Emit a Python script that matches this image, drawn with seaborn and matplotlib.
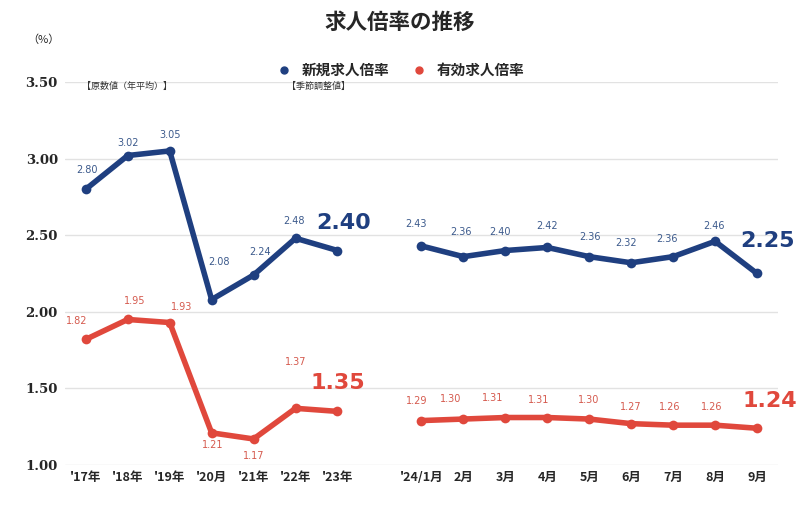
import pandas as pd
import matplotlib.pyplot as plt
import seaborn as sns
from matplotlib.lines import Line2D

sns.set_theme(style="white")
plt.rcParams["font.family"] = ["Noto Sans CJK JP", "DejaVu Sans"]

# categories ("" is the visual gap between annual and monthly data)
categories = ["'17年", "'18年", "'19年", "'20月", "'21年", "'22年", "'23年", "",
              "'24/1月", "2月", "3月", "4月", "5月", "6月", "7月", "8月", "9月"]
segments = [0, 0, 0, 0, 0, 0, 0, -1, 1, 1, 1, 1, 1, 1, 1, 1, 1]
new_ratio = [2.80, 3.02, 3.05, 2.08, 2.24, 2.48, 2.40, None,
             2.43, 2.36, 2.40, 2.42, 2.36, 2.32, 2.36, 2.46, 2.25]
active_ratio = [1.82, 1.95, 1.93, 1.21, 1.17, 1.37, 1.35, None,
                1.29, 1.30, 1.31, 1.31, 1.30, 1.27, 1.26, 1.26, 1.24]

series_names = ["新規求人倍率", "有効求人倍率"]
colors = {"新規求人倍率": "#1F3F80", "有効求人倍率": "#E0483C"}
label_colors = {"新規求人倍率": "#3C5A8C", "有効求人倍率": "#D55A4E"}

# label offsets in pixels (dx, dy) for each point
new_offsets = [(1, 19), (0, 13), (0, 16), (7, 38), (6, 23), (-2, 17), (6, 28), None,
               (-5, 22), (-2, 25), (-5, 19), (0, 21), (1, 20), (-5, 20), (-6, 18), (-1, 15), (10, 32)]
active_offsets = [(-9, 18), (7, 18), (12, 16), (1, -12), (0, -17), (0, 46), (0, 28), None,
                  (-5, 20), (-13, 20), (-13, 20), (-9, 18), (-1, 19), (0, 17), (-3, 18), (-3, 18), (13, 27)]

rows = []
for name, vals in zip(series_names, [new_ratio, active_ratio]):
    for i, v in enumerate(vals):
        if v is None:
            continue
        rows.append({"pos": i, "value": v, "series": name, "segment": segments[i]})
df = pd.DataFrame(rows)

fig = plt.figure(figsize=(8, 5.14), dpi=100)
ax = fig.add_axes([0.081, 0.0953, 0.8915, 0.7452])

sns.lineplot(data=df, x="pos", y="value", hue="series", units="segment",
             estimator=None, palette=colors, linewidth=4, marker="o",
             markersize=7, markeredgewidth=0, legend=False, ax=ax)

for name, vals, offs in zip(series_names, [new_ratio, active_ratio],
                            [new_offsets, active_offsets]):
    for i, v in enumerate(vals):
        if v is None:
            continue
        last = (i == 6 or i == len(vals) - 1)
        ax.annotate(f"{v:.2f}", (i, v), xytext=offs[i], textcoords="offset pixels",
                    ha="center", va="center",
                    fontsize=16 if last else 7,
                    fontweight="bold" if last else "normal",
                    color=colors[name] if last else label_colors[name],
                    family="DejaVu Sans")

ax.set_xlim(-0.5, len(categories) - 0.5)
ax.set_ylim(1.0, 3.5)
ax.set_yticks([1.0, 1.5, 2.0, 2.5, 3.0, 3.5])
ax.set_yticklabels([f"{t:.2f}" for t in [1.0, 1.5, 2.0, 2.5, 3.0, 3.5]],
                   fontsize=9.5, fontweight="bold", family="DejaVu Serif")
ax.set_xticks(range(len(categories)))
ax.set_xticklabels(categories, fontsize=9, fontweight="bold")
ax.tick_params(axis="both", length=0, pad=4)
ax.tick_params(axis="y", pad=5)
ax.set_xlabel("")
ax.set_ylabel("")
ax.grid(axis="y", color="#e2e2e2", linewidth=1)
ax.set_axisbelow(True)
sns.despine(ax=ax, left=True, bottom=True)

fig.text(0.5, 1 - 22 / 514, "求人倍率の推移", ha="center", va="center",
         fontsize=15.5, fontweight="bold")
fig.text(43 / 800, 1 - 40 / 514, "（%）", ha="center", va="center", fontsize=8)
fig.text(82 / 800, 1 - 86 / 514, "【原数値（年平均）】", ha="left", va="center",
         fontsize=6.5, color="#333333")
fig.text(287 / 800, 1 - 86 / 514, "【季節調整値】", ha="left", va="center",
         fontsize=6.5, color="#333333")

handles = [Line2D([], [], linestyle="none", marker="o", markersize=5,
                  color=colors[n]) for n in series_names]
fig.legend(handles, series_names, loc="center", ncol=2,
           bbox_to_anchor=(397 / 800, 1 - 70 / 514), frameon=False,
           handletextpad=0.2, columnspacing=1.0,
           prop={"weight": "bold", "size": 10.5})

fig.savefig("out.png", dpi=100)
